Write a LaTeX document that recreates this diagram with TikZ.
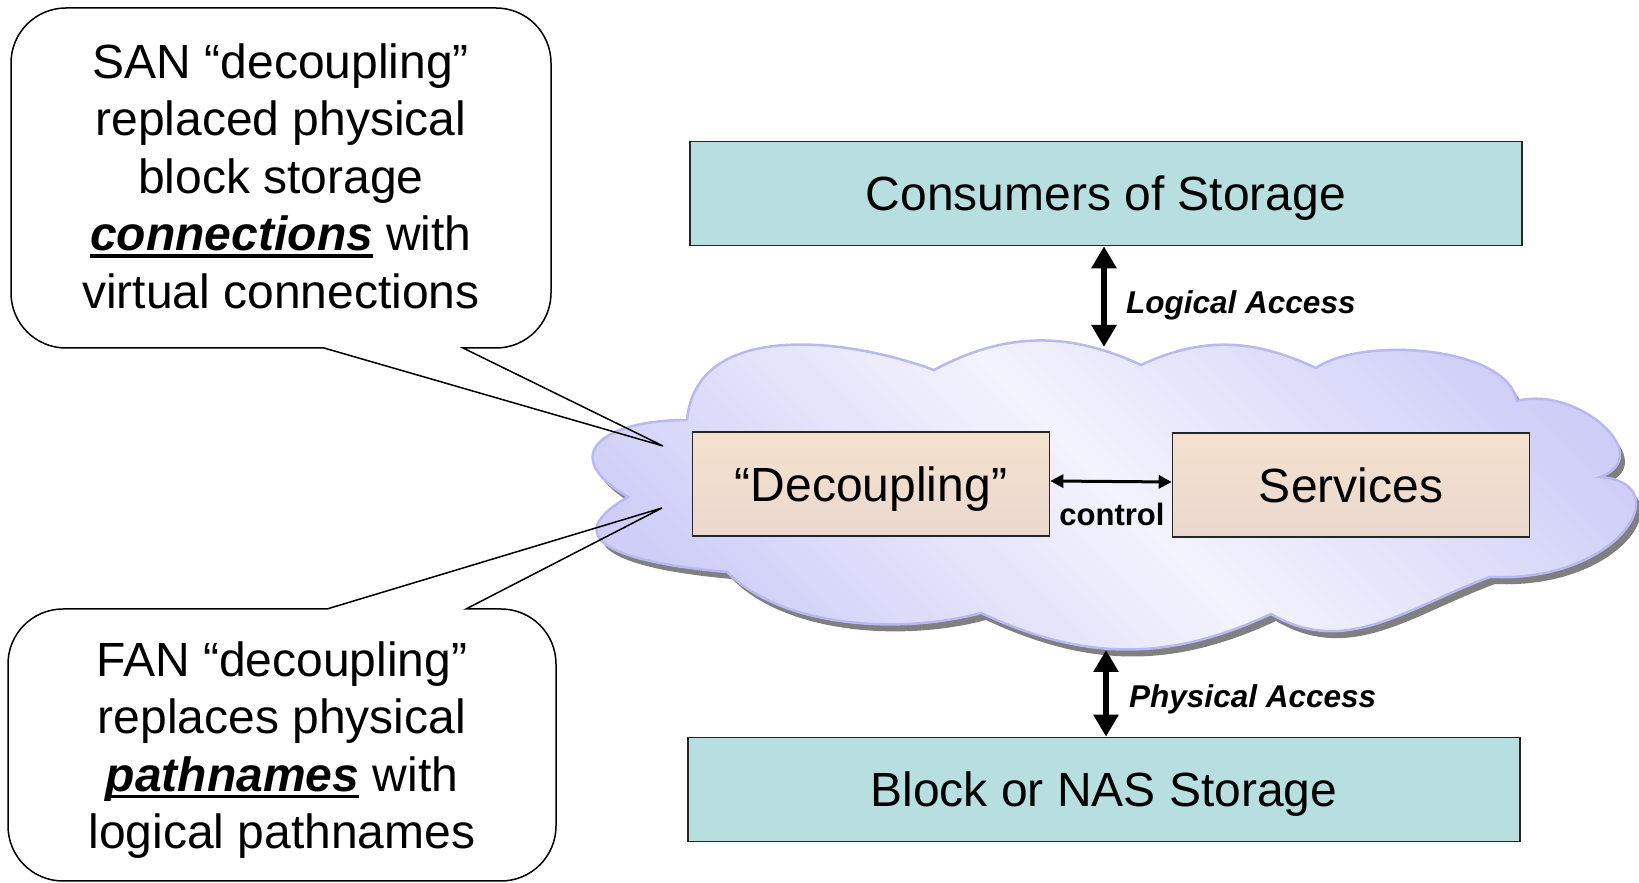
\documentclass[tikz,border=0pt]{standalone}
\usepackage{fontspec}
\setmainfont{Liberation Sans}
\usetikzlibrary{arrows.meta,positioning}

\definecolor{boxteal}{RGB}{183,223,224}
\definecolor{peachtop}{RGB}{244,225,206}
\definecolor{peachbot}{RGB}{234,216,207}
\definecolor{cloudlight}{RGB}{243,243,253}
\definecolor{clouddark}{RGB}{206,206,248}
\definecolor{cloudline}{RGB}{184,184,242}
\definecolor{cloudshadow}{RGB}{128,128,128}

% thick underline for the emphasised words
\newcommand\ulword[1]{\setbox0\hbox{#1}\rlap{\rule[-7pt]{\wd0}{3.2pt}}\box0\relax}

\tikzset{
  storebox/.style={draw=black!85, line width=1.6pt, fill=boxteal, minimum width=832pt,
    minimum height=104pt, inner sep=0pt, text height=34.5pt, text depth=0pt,
    font=\fontsize{48}{57.5}\selectfont},
  corebox/.style={draw=black!85, line width=1.6pt, top color=peachtop, bottom color=peachbot,
    minimum width=357pt, minimum height=104pt, inner sep=0pt, text height=34.5pt,
    text depth=0pt, font=\fontsize{48}{57.5}\selectfont},
  cloudbody/.style={draw=cloudline, line width=2.5pt, top color=clouddark, bottom color=clouddark,
    middle color=cloudlight, shading angle=-45,
    preaction={fill=cloudshadow, transform canvas={xshift=5pt,yshift=-7pt}}},
  callout/.style={draw=black, line width=1.5pt},
  note/.style={align=center, inner sep=0pt, font=\fontsize{48}{57.5}\selectfont},
  access/.style={line width=6pt, {Triangle[width=24pt,length=22pt]}-{Triangle[width=24pt,length=22pt]}},
  ctrl/.style={line width=3pt, {Triangle[width=13pt,length=13pt]}-{Triangle[width=13pt,length=13pt]}},
  acclabel/.style={inner sep=0pt, font=\fontsize{31.5}{38}\selectfont\bfseries\itshape},
  ctrllabel/.style={inner sep=0pt, font=\fontsize{31}{37}\selectfont\bfseries}
}

\begin{document}
\begin{tikzpicture}[x=1pt,y=1pt]
  \useasboundingbox (0,0) rectangle (1639,883);

  % the cloud, with its grey shadow
  \path[cloudbody] (687,463)
    .. controls (696,561) and (841,547) .. (934,513)
    .. controls (1005,551) and (1068,552) .. (1141,518)
    .. controls (1203,547) and (1254,544) .. (1316,515)
    .. controls (1362,547) and (1507,537) .. (1517,482)
    .. controls (1577,498) and (1658,427) .. (1600,406)
    .. controls (1680,400) and (1620,300) .. (1490,306)
    .. controls (1408,276) and (1346,225) .. (1271,269)
    .. controls (1168,221) and (1084,222) .. (981,270)
    .. controls (903,249) and (784,254) .. (727,311)
    .. controls (635,319) and (548,340) .. (628,386)
    .. controls (556,428) and (603,463) .. cycle;

  % boxes
  \node[storebox] (cons) at (1106,689.5) {Consumers of Storage};
  \node[storebox] (blk) at (1104,93.5) {Block or NAS Storage};
  \node[corebox] (dec) at (871,399) {“Decoupling”};
  \node[corebox] (svc) at (1351,398) {Services};

  % access arrows
  \coordinate (cloudtop) at (1104,536);
  \coordinate (cloudbot) at (1106,233);
  \draw[access] (cloudtop |- cons.south) -- (cloudtop);
  \draw[access] (cloudbot) -- (cloudbot |- blk.north);
  \node[acclabel, anchor=west] (logical) at (1126,578) {Logical Access};
  \node[acclabel, anchor=west] (physical) at (1129,184) {Physical Access};

  \draw[ctrl] ([yshift=3pt]dec.east) -- ([yshift=3pt]svc.west);
  \node[ctrllabel] (ctrltxt) at (1112,369) {control};

  % callouts
  \coordinate (santip) at (663,437);
  \coordinate (fantip) at (662,375);
  \draw[callout] (463,535) -- (496,535) arc[start angle=-90,end angle=0,radius=55]
    -- (551,820) arc[start angle=0,end angle=90,radius=55]
    -- (66,875) arc[start angle=90,end angle=180,radius=55]
    -- (11,590) arc[start angle=180,end angle=270,radius=55]
    -- (324,535) -- (santip) -- cycle;
  \draw[callout] (327,274) -- (63,274) arc[start angle=90,end angle=180,radius=55]
    -- (8,57) arc[start angle=180,end angle=270,radius=55]
    -- (501,2) arc[start angle=-90,end angle=0,radius=55]
    -- (556,219) arc[start angle=0,end angle=90,radius=55]
    -- (466,274) -- (fantip) -- cycle;

  \node[note] (santext) at (281,707) {SAN “decoupling”\\replaced physical\\block storage\\
    \ulword{\textbf{\textit{connections}}} with\\virtual connections};
  \node[note] (fantext) at (282,133) {FAN “decoupling”\\replaces physical\\
    \ulword{\textbf{\textit{pathnames}}} with\\logical pathnames};
\end{tikzpicture}
\end{document}
